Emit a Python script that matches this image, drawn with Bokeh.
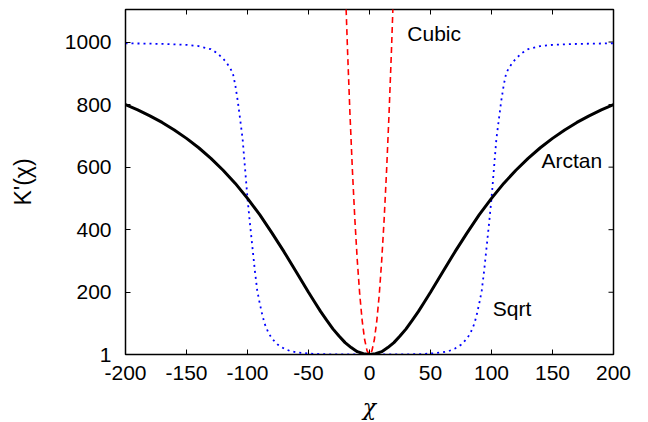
import math
from bokeh.plotting import figure
from bokeh.models import Range1d, FixedTicker, Label
from bokeh.embed import file_html
from bokeh.resources import INLINE

# ---- data (positive half; curves are symmetric) ----
arctan_chi = [0, 5, 10, 15, 20, 25, 30, 35, 40, 45, 50, 60, 70, 80, 90, 100,
              110, 120, 130, 140, 150, 160, 170, 180, 190, 200]
arctan_val = [1, 3.5, 10, 23, 39, 60, 83, 110, 138, 169, 200, 265, 329, 390, 448, 500,
              548, 590, 628, 662, 692, 719, 743, 764, 783, 800]

sqrt_chi = [0, 20, 40, 50, 60, 65, 70, 75, 80, 83, 86, 88, 90, 92, 94, 96, 98, 100,
            102, 104, 106, 108, 110, 112, 114, 117, 120, 125, 130, 140, 150, 170, 200]
sqrt_val = [1, 1, 2, 4, 8, 12, 20, 32, 52, 72, 100, 130, 165, 205, 270, 345, 420, 500,
            595, 690, 752, 812, 862, 900, 915, 933, 947, 965, 977, 987, 991, 994, 996]

cubic_chi = [0, 2, 4, 6, 8, 10, 12, 14, 16, 18, 20]
cubic_val = [1, 13, 49, 109, 193, 301, 433, 589, 769, 973, 1201]

x_ticks = [-200, -150, -100, -50, 0, 50, 100, 150, 200]
y_ticks = [1, 200, 400, 600, 800, 1000]
x_min, x_max = -200, 200
y_min, y_max = 1, 1104


def mirror(xs, ys):
    mx = [-x for x in reversed(xs[1:])] + list(xs)
    my = list(reversed(ys[1:])) + list(ys)
    return mx, my


FONT = "Liberation Sans"
FS = "21px"

p = figure(width=648, height=422, output_backend="svg", toolbar_location=None,
           x_range=Range1d(x_min, x_max), y_range=Range1d(y_min, y_max))
p.min_border_left = 125
p.min_border_right = 35
p.min_border_top = 9
p.min_border_bottom = 68
p.xgrid.visible = False
p.ygrid.visible = False
p.outline_line_color = "black"
p.outline_line_width = 1.5
p.background_fill_color = "white"
p.border_fill_color = "white"

for ax in (p.xaxis[0], p.yaxis[0]):
    ax.major_tick_in = 5
    ax.major_tick_out = 0
    ax.minor_tick_in = 0
    ax.minor_tick_out = 0
    ax.axis_line_color = "black"
    ax.major_tick_line_color = "black"
    ax.major_label_text_font = FONT
    ax.major_label_text_font_size = FS
    ax.major_label_text_color = "black"
    ax.axis_label_text_color = "black"

p.xaxis.ticker = FixedTicker(ticks=x_ticks)
p.yaxis.ticker = FixedTicker(ticks=y_ticks)
p.xaxis.major_label_overrides = {t: str(t) for t in x_ticks}
p.yaxis.major_label_overrides = {t: str(t) for t in y_ticks}
p.xaxis.major_label_standoff = 11
p.yaxis.major_label_standoff = 14
p.xaxis.axis_label = "χ"
p.yaxis.axis_label = "K'(χ)"
p.xaxis.axis_label_text_font = "DejaVu Serif"
p.xaxis.axis_label_text_font_style = "italic"
p.xaxis.axis_label_text_font_size = "22px"
p.yaxis.axis_label_text_font = FONT
p.yaxis.axis_label_text_font_style = "normal"
p.yaxis.axis_label_text_font_size = "23px"
p.xaxis.axis_label_standoff = 12
p.yaxis.axis_label_standoff = 26

# mirror ticks on the top and right edges (gnuplot style)
n = len(x_ticks)
p.ray(x=x_ticks, y=[y_max] * n, length=5, length_units="screen",
      angle=-math.pi / 2, line_color="black", line_width=1)
m = len(y_ticks)
p.ray(x=[x_max] * m, y=y_ticks, length=5, length_units="screen",
      angle=math.pi, line_color="black", line_width=1)

sx, sy = mirror(sqrt_chi, sqrt_val)
p.line(sx, sy, line_color="#0000ff", line_width=1.8, line_dash="2 4")

cx, cy = mirror(cubic_chi, cubic_val)
p.line(cx, cy, line_color="#ff0000", line_width=1.6, line_dash="6 4")

ax_, ay_ = mirror(arctan_chi, arctan_val)
p.line(ax_, ay_, line_color="black", line_width=3)

for txt, x, y in [("Cubic", 31, 1028), ("Arctan", 141, 621), ("Sqrt", 101, 147)]:
    p.add_layout(Label(x=x, y=y, text=txt, text_font=FONT, text_font_size=FS,
                       text_align="left", text_baseline="middle", text_color="black"))

open("out.html", "w").write(file_html(p, INLINE))
